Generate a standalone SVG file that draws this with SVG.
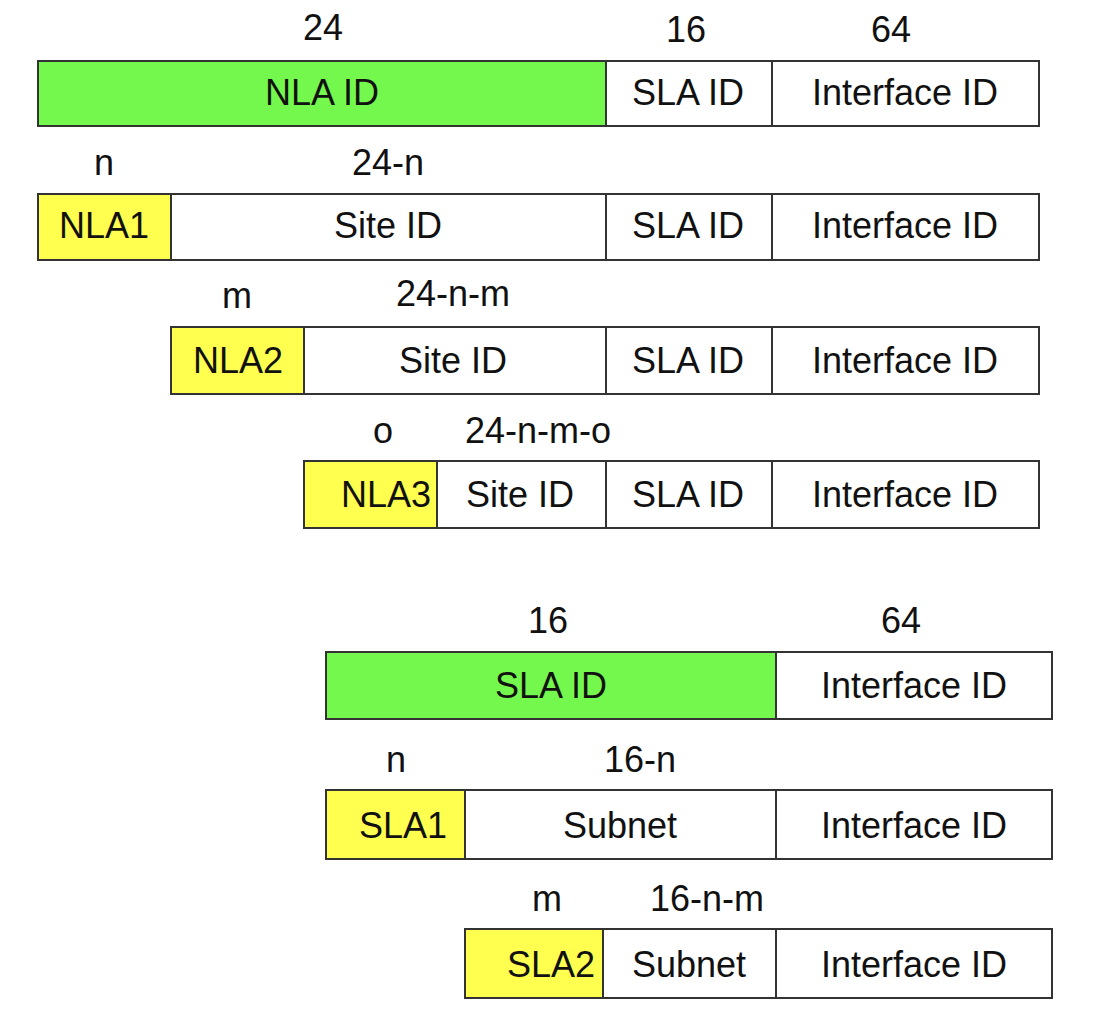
<svg xmlns="http://www.w3.org/2000/svg" width="1110" height="1016" viewBox="0 0 1110 1016">
<style>
text{font-family:"Liberation Sans",Arial,sans-serif;font-size:36px;fill:#111;text-anchor:middle}
.g{fill:#75F84E}.y{fill:#FFFF4F}.w{fill:#fff}
.g,.y,.w{stroke:#333;stroke-width:2}
.r{text-anchor:end}
</style>
<rect width="1110" height="1016" fill="#fff"/>
<g id="row1">
<rect class="g" x="38" y="61" width="568" height="65"/><rect class="w" x="606" y="61" width="166" height="65"/><rect class="w" x="772" y="61" width="267" height="65"/>
<text x="323" y="40">24</text><text x="686" y="42">16</text><text x="891" y="42">64</text>
<text x="322" y="105">NLA ID</text><text x="688" y="105">SLA ID</text><text x="905" y="105">Interface ID</text>
</g>
<g id="row2">
<rect class="y" x="38" y="194" width="133" height="66"/><rect class="w" x="171" y="194" width="435" height="66"/><rect class="w" x="606" y="194" width="166" height="66"/><rect class="w" x="772" y="194" width="267" height="66"/>
<text x="104" y="175">n</text><text x="388" y="175">24-n</text>
<text x="104" y="238">NLA1</text><text x="388" y="238">Site ID</text><text x="688" y="238">SLA ID</text><text x="905" y="238">Interface ID</text>
</g>
<g id="row3">
<rect class="y" x="171" y="327" width="133" height="67"/><rect class="w" x="304" y="327" width="302" height="67"/><rect class="w" x="606" y="327" width="166" height="67"/><rect class="w" x="772" y="327" width="267" height="67"/>
<text x="237" y="308">m</text><text x="453" y="306">24-n-m</text>
<text x="238" y="373">NLA2</text><text x="453" y="373">Site ID</text><text x="688" y="373">SLA ID</text><text x="905" y="373">Interface ID</text>
</g>
<g id="row4">
<rect class="y" x="304" y="461" width="133" height="67"/><rect class="w" x="437" y="461" width="169" height="67"/><rect class="w" x="606" y="461" width="166" height="67"/><rect class="w" x="772" y="461" width="267" height="67"/>
<text x="383" y="443">o</text><text x="538" y="443">24-n-m-o</text>
<text class="r" x="431" y="507">NLA3</text><text x="520" y="507">Site ID</text><text x="688" y="507">SLA ID</text><text x="905" y="507">Interface ID</text>
</g>
<g id="row5">
<rect class="g" x="326" y="652" width="450" height="67"/><rect class="w" x="776" y="652" width="276" height="67"/>
<text x="548" y="633">16</text><text x="901" y="633">64</text>
<text x="551" y="698">SLA ID</text><text x="914" y="698">Interface ID</text>
</g>
<g id="row6">
<rect class="y" x="326" y="790" width="139" height="69"/><rect class="w" x="465" y="790" width="311" height="69"/><rect class="w" x="776" y="790" width="276" height="69"/>
<text x="396" y="772">n</text><text x="640" y="772">16-n</text>
<text class="r" x="447" y="838">SLA1</text><text x="620" y="838">Subnet</text><text x="914" y="838">Interface ID</text>
</g>
<g id="row7">
<rect class="y" x="465" y="929" width="138" height="69"/><rect class="w" x="603" y="929" width="173" height="69"/><rect class="w" x="776" y="929" width="276" height="69"/>
<text x="547" y="911">m</text><text x="707" y="911">16-n-m</text>
<text class="r" x="595" y="977">SLA2</text><text x="689" y="977">Subnet</text><text x="914" y="977">Interface ID</text>
</g>
<g id="connectors"></g>
</svg>
